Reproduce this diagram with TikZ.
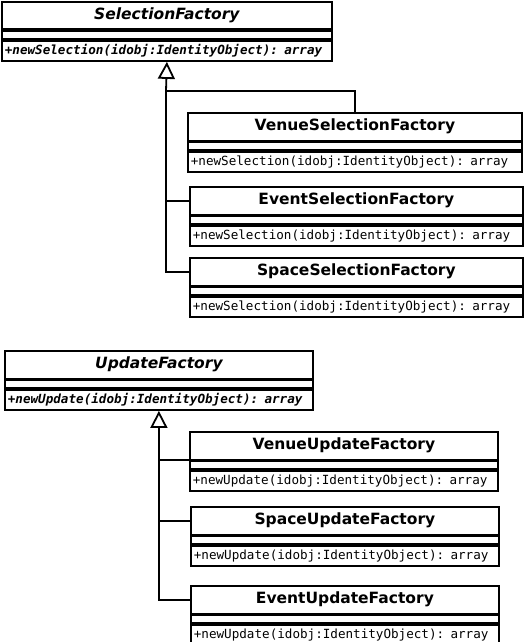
\documentclass[tikz,border=0pt]{standalone}
\usepackage{fontspec}
\usetikzlibrary{arrows.meta}
\newfontfamily\dvs{DejaVu Sans}
\newfontfamily\dvm{DejaVu Sans Mono}
\tikzset{
  box/.style={draw, line width=1.8pt, inner sep=0pt, anchor=north west},
  ttl/.style={box, minimum height=27.5pt},
  gapbox/.style={box, minimum height=8pt},
  mth/.style={box, minimum height=20pt, inner xsep=3pt, align=left},
  conn/.style={line width=1.8pt},
  gen/.style={conn, -{Triangle[open, length=17pt, width=17pt, line width=1.8pt]}},
  abstitle/.style={font=\dvs\bfseries\itshape\fontsize{15.5}{18}\selectfont},
  contitle/.style={font=\dvs\bfseries\fontsize{15.5}{18}\selectfont},
  absmeth/.style={font=\dvm\bfseries\itshape\fontsize{12.6}{15}\selectfont},
  conmeth/.style={font=\dvm\fontsize{12.6}{15}\selectfont}
}
% #1 name, #2 x, #3 y, #4 width, #5 title style, #6 method style, #7 title, #8 method
\newcommand\umlclass[8]{%
  \node[ttl, #5, minimum width=#4pt] (#1) at (#2,#3) {#7};
  \node[gapbox, minimum width=#4pt] (#1-g) at (#1.south west) {};
  \node[mth, #6, text width=\the\dimexpr#4pt-6pt\relax] (#1-m) at (#1-g.south west) {#8};
}
\begin{document}
\begin{tikzpicture}[x=1pt, y=-1pt]
\useasboundingbox (0,0) rectangle (523,642);
% Selection hierarchy
\umlclass{sf}{1}{1}{330}{abstitle}{absmeth}{SelectionFactory}{+newSelection(idobj:IdentityObject): array}
\umlclass{vsf}{187}{112}{334}{contitle}{conmeth}{VenueSelectionFactory}{+newSelection(idobj:IdentityObject): array}
\umlclass{esf}{189}{186}{333}{contitle}{conmeth}{EventSelectionFactory}{+newSelection(idobj:IdentityObject): array}
\umlclass{ssf}{189}{257}{333}{contitle}{conmeth}{SpaceSelectionFactory}{+newSelection(idobj:IdentityObject): array}
\coordinate (j1) at (166,91);
\draw[gen] (vsf.north) |- (j1) -- (sf-m.south);
\draw[conn] (ssf.west) -| (j1);
\draw[conn] (esf.west) -- (esf.west -| j1);
% Update hierarchy
\umlclass{uf}{4}{350}{308}{abstitle}{absmeth}{UpdateFactory}{+newUpdate(idobj:IdentityObject): array}
\umlclass{vuf}{189}{431}{308}{contitle}{conmeth}{VenueUpdateFactory}{+newUpdate(idobj:IdentityObject): array}
\umlclass{suf}{190}{506}{308}{contitle}{conmeth}{SpaceUpdateFactory}{+newUpdate(idobj:IdentityObject): array}
\umlclass{euf}{190}{585}{308}{contitle}{conmeth}{EventUpdateFactory}{+newUpdate(idobj:IdentityObject): array}
\draw[gen] (euf.west) -| (uf-m.south);
\draw[conn] (vuf.south west) -- (vuf.south west -| uf-m.south);
\draw[conn] (suf.west) -- (suf.west -| uf-m.south);
\end{tikzpicture}
\end{document}
